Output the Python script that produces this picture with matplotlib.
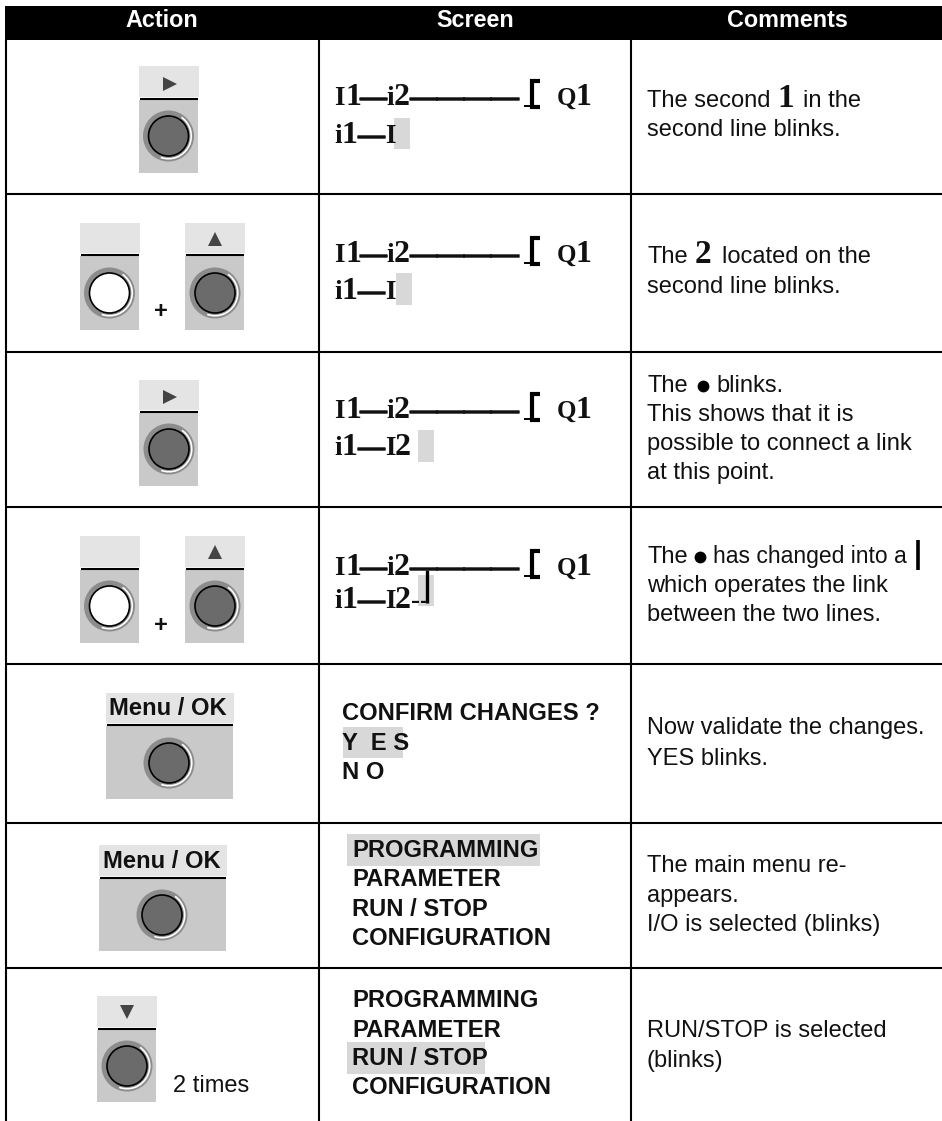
import matplotlib
matplotlib.use('Agg')
import matplotlib.pyplot as plt
import matplotlib.patheffects as pe
from matplotlib.patches import Rectangle, Circle, Arc

SANS = 'Liberation Sans'
SERIF = 'Liberation Serif'

# Table content
headers = ['Action', 'Screen', 'Comments']
menu_key = 'Menu / OK'
times_label = '2 times'
confirm_lines = ['CONFIRM CHANGES ?', 'Y  E S', 'N O']
menu_lines = ['PROGRAMMING', 'PARAMETER', 'RUN / STOP', 'CONFIGURATION']
comments_row3 = ['This shows that it is', 'possible to connect a link', 'at this point.']
comments_row4 = ['which operates the link', 'between the two lines.']
comments_row5 = ['Now validate the changes.', 'YES blinks.']
comments_row6 = ['The main menu re-', 'appears.', 'I/O is selected (blinks)']
comments_row7 = ['RUN/STOP is selected', '(blinks)']

# Layout in pixels
row_lines = [194, 352, 507, 664, 823, 968]
col_lines = [6, 319, 631]

fig = plt.figure(figsize=(9.42, 11.21), dpi=100)
ax = fig.add_axes([0, 0, 1, 1])
ax.set_xlim(0, 942)
ax.set_ylim(1121, 0)
ax.axis('off')

LW = 1.5


def sans(x, y, s, size=17, weight='normal', **kw):
    ax.text(x, y, s, fontsize=size, family=SANS, fontweight=weight, va='baseline', color='#111111', **kw)


def serif(x, y, s, size, heavy=False):
    t = ax.text(x, y, s, fontsize=size, family=SERIF, fontweight='bold', va='baseline', color='#111111')
    if heavy:
        t.set_path_effects([pe.withStroke(linewidth=1.1, foreground='#222222')])


def gray_box(x0, x1, y0, y1):
    ax.add_patch(Rectangle((x0, y0), x1 - x0, y1 - y0, fc='#d8d8d8', ec='none', zorder=0))


def button(cx, cy, white=False):
    ax.add_patch(Circle((cx, cy), 25.5, fc='#8c8c8c', ec='none', zorder=2))
    ax.add_patch(Arc((cx, cy), 45.5, 45.5, theta1=-55, theta2=110, color='white', lw=1.2, zorder=3))
    ax.add_patch(Circle((cx, cy), 20, fc='white' if white else '#6b6b6b', ec='black', lw=1.2, zorder=4))


def key(x0, x1, top, line_y, bottom, cx, cy, white=False, mark=None):
    ax.add_patch(Rectangle((x0 - 0.5, top), x1 - x0 + 1, line_y - top - 1, fc='#e4e4e4', ec='none'))
    ax.add_patch(Rectangle((x0, line_y + 2), x1 - x0, bottom - line_y - 2, fc='#c9c9c9', ec='none'))
    ax.plot([x0 + 1, x1], [line_y + 0.5, line_y + 0.5], color='black', lw=LW, solid_capstyle='butt')
    button(cx, cy, white)
    if mark:
        ax.plot(mark[1], mark[2], marker=mark[0], ms=9.5, color='#444444', mew=0, ls='none')


def ladder(y, second_y, second='I'):
    # first line of the screen
    serif(334, y, 'I', 19.5)
    serif(346, y, '1', 23)
    serif(360, y, '—', 19.5, heavy=True)
    serif(386, y, 'i', 19.5)
    serif(394, y, '2', 23)
    serif(410, y, '————', 19.5, heavy=True)
    serif(557, y, 'Q', 18)
    serif(575, y, '1', 23)
    # output bracket
    by0, by1 = y - 26, y + 3
    ax.plot([540, 532, 532, 540], [by0 + 1.5, by0 + 1.5, by1 - 1.5, by1 - 1.5], color='black', lw=3,
            solid_joinstyle='miter', solid_capstyle='butt')
    ax.plot([524, 532], [by1 - 2, by1 - 2], color='black', lw=1.4, solid_capstyle='butt')
    # second line
    serif(334, second_y, 'i', 19.5)
    serif(341, second_y, '1', 23)
    serif(358, second_y, '—', 19.5, heavy=True)
    serif(385, second_y, 'I', 19.5)
    if second == 'I2':
        serif(395, second_y, '2', 23)


# Header band and grid
ax.add_patch(Rectangle((5, 6), 937, 34, fc='black', ec='none'))
for name, cx in zip(headers, [162, 475, 787]):
    ax.text(cx, 27, name, fontsize=16.8, family=SANS, fontweight='bold', color='white', ha='center', va='baseline')
for y in row_lines:
    ax.plot([6, 942], [y, y], color='black', lw=LW, solid_capstyle='butt')
for x in col_lines:
    ax.plot([x, x], [39, 1121], color='black', lw=LW, solid_capstyle='butt')

# Action column
key(139, 198, 66, 98, 173, 168.5, 136, mark=('>', 170, 84))
key(80, 139, 223, 254, 330, 109.5, 293, white=True)
key(185, 244, 223, 254, 330, 215, 293, mark=('^', 215, 239))
sans(161, 318, '+', 17, 'bold', ha='center')
key(139, 198, 380, 411, 486, 169, 449, mark=('>', 170, 397))
key(80, 139, 536, 568, 643, 109.5, 606, white=True)
key(185, 244, 536, 568, 643, 215, 606, mark=('^', 215, 552))
sans(161, 632, '+', 17, 'bold', ha='center')
key(106, 233, 693, 724, 799, 169, 763)
sans(168, 715, menu_key, 17.1, 'bold', ha='center')
key(99, 226, 845, 877, 951, 162, 915)
sans(162, 868, menu_key, 17.1, 'bold', ha='center')
key(97, 156, 996, 1028, 1102, 127, 1066, mark=('v', 127, 1012))
sans(173, 1092, times_label, 17)

# Screen column
gray_box(394, 410, 118, 149)
gray_box(396, 412, 273, 305)
gray_box(418, 434, 430, 462)
gray_box(418, 434, 575, 606)
ladder(105, 143)
ladder(262, 299)
ladder(418, 455, 'I2')
ladder(575, 608, 'I2')
serif(411, 608, '--', 19.5)
ax.plot([427, 427], [570, 603], color='black', lw=2.4, solid_capstyle='butt')

gray_box(343, 403, 727, 758)
for y, s in zip([720, 750, 779], confirm_lines):
    sans(342, y, s, 17.1, 'bold')
gray_box(347, 540, 834, 866)
for y, s in zip([857, 886, 916, 945], menu_lines):
    sans(352, y, s, 17.1, 'bold')
gray_box(347, 485, 1042, 1074)
for y, s in zip([1007, 1037, 1065, 1094], menu_lines):
    sans(352, y, s, 17.1, 'bold')

# Comments column
sans(647, 107, 'The second', 17)
serif(777, 107, '1', 24)
sans(803, 107, 'in the', 17)
sans(647, 136, 'second line blinks.', 17)
sans(647, 263, 'The', 17)
serif(695, 263, '2', 24)
sans(722, 263, 'located on the', 17)
sans(647, 293, 'second line blinks.', 17)

sans(647, 392, 'The', 17)
ax.plot(702.5, 386, marker='o', ms=8.5, color='black', mew=0, ls='none')
sans(716, 392, 'blinks.', 17)
for y, s in zip([421, 450, 479], comments_row3):
    sans(647, y, s, 17)

sans(647, 563, 'The', 17)
ax.plot(700, 557, marker='o', ms=8.5, color='black', mew=0, ls='none')
sans(713, 563, 'has changed into a', 16.5)
ax.plot([918, 918], [540, 570], color='black', lw=2.6, solid_capstyle='butt')
for y, s in zip([592, 621], comments_row4):
    sans(647, y, s, 17)

for y, s in zip([734, 765], comments_row5):
    sans(647, y, s, 17)
for y, s in zip([872, 902, 931], comments_row6):
    sans(647, y, s, 17)
for y, s in zip([1037, 1067], comments_row7):
    sans(647, y, s, 17)

fig.savefig('out.png', dpi=100, facecolor='white')
